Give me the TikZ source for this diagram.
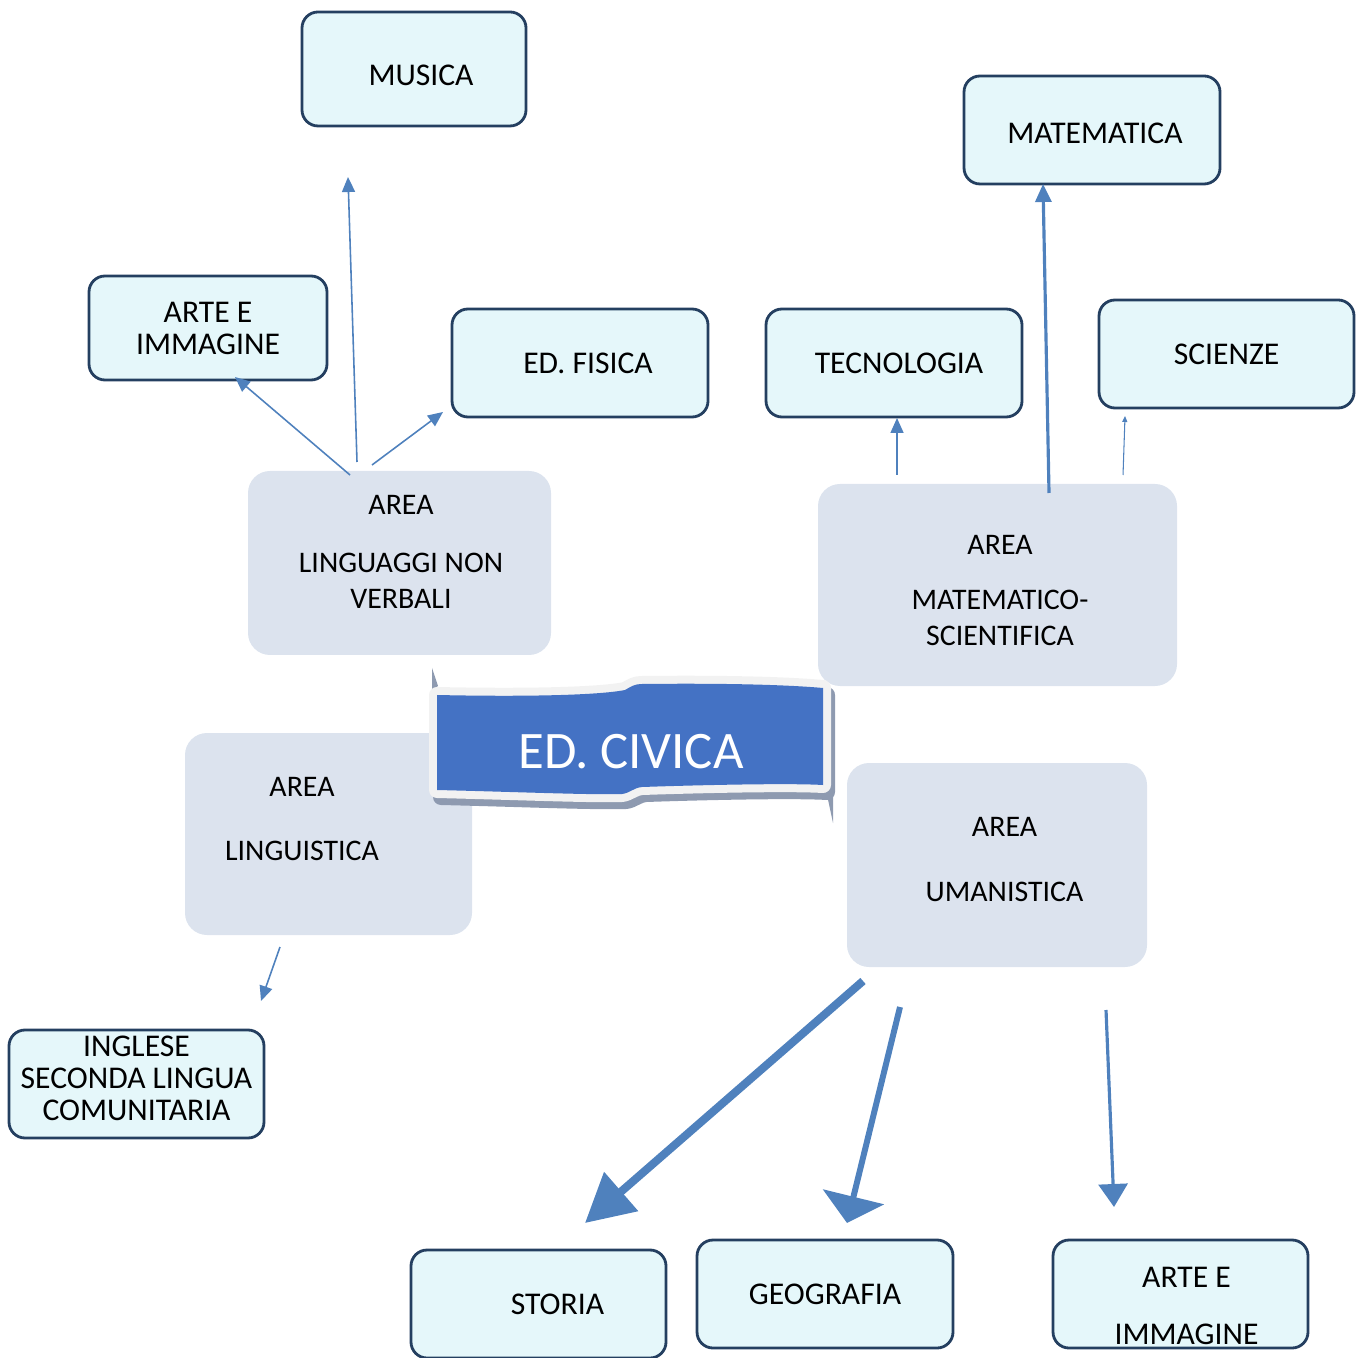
\documentclass[tikz,border=0pt]{standalone}
\usepackage{fontspec}
\setmainfont{Carlito}
\usepackage{tikz}
\usetikzlibrary{arrows.meta,positioning,calc}
\usepackage{xcolor}

\definecolor{boxfill}{HTML}{E5F7FA}
\definecolor{boxline}{HTML}{243F60}
\definecolor{areafill}{HTML}{DCE3EE}
\definecolor{arrowblue}{HTML}{4F81BD}
\definecolor{bannerblue}{HTML}{4472C4}
\definecolor{bannershade}{HTML}{8E9AB0}
\definecolor{bannerwhite}{HTML}{F2F2F2}

\tikzset{
  subject/.style={draw=boxline, line width=0.8pt, fill=boxfill, rounded corners=0.16cm,
    align=center, inner sep=0pt, minimum width=2.56cm, minimum height=1.08cm,
    font=\fontsize{9}{9.1}\selectfont},
  area/.style={fill=areafill, rounded corners=0.22cm, inner sep=0pt},
  areatext/.style={align=center, font=\fontsize{8.5}{10.2}\selectfont},
  link/.style={draw=arrowblue, line width=0.45pt, -{Triangle[length=0.15cm,width=0.13cm]}},
}

\def\bandpath{(4.37,-6.95) .. controls (5.3,-6.97) and (6.0,-6.95) .. (6.25,-6.90)
  .. controls (6.32,-6.86) and (6.35,-6.84) .. (6.42,-6.84)
  .. controls (7.3,-6.83) and (7.9,-6.85) .. (8.23,-6.88) -- (8.23,-7.85)
  .. controls (7.9,-7.83) and (7.0,-7.85) .. (6.42,-7.87)
  .. controls (6.33,-7.88) and (6.3,-7.93) .. (6.22,-7.94)
  .. controls (5.9,-7.95) and (5.2,-7.92) .. (4.37,-7.90) -- cycle}

\begin{document}
\begin{tikzpicture}[>=Stealth]
  \useasboundingbox (0,0) rectangle (13.56,-13.58);

  % Area boxes
  \node[area, minimum width=3.03cm, minimum height=1.84cm] (alnv) at (3.995,-5.63) {};
  \node[areatext] (alnvt) at (4.01,-5.52) {AREA\\[6.3pt]LINGUAGGI NON\\VERBALI};
  \node[area, minimum width=3.59cm, minimum height=2.02cm] (ams) at (9.975,-5.85) {};
  \node[areatext] (amst) at (10.0,-5.905) {AREA\\[5.4pt]MATEMATICO-\\SCIENTIFICA};
  \node[area, minimum width=2.87cm, minimum height=2.02cm] (al) at (3.285,-8.34) {};
  \node[areatext] (alt) at (3.02,-8.19) {AREA\\[8pt]LINGUISTICA};
  \node[area, minimum width=3.0cm, minimum height=2.04cm] (au) at (9.97,-8.65) {};
  \node[areatext] (aut) at (10.045,-8.595) {AREA\\[8.3pt]UMANISTICA};

  % Banner
  \fill[bannershade] (4.32,-6.68) -- (4.38,-6.86) -- (4.32,-6.9) -- cycle;
  \fill[bannershade] (8.27,-7.95) -- (8.33,-7.95) -- (8.33,-8.23) -- cycle;
  \begin{scope}[shift={(0.04,-0.07)}]
    \filldraw[bannershade, line width=0.16cm, line join=round] \bandpath;
  \end{scope}
  \draw[bannerwhite, line width=0.16cm, line join=round] \bandpath;
  \fill[bannerblue] \bandpath;
  \node[text=white, font=\fontsize{15}{15}\selectfont] (civica) at (6.31,-7.52) {ED. CIVICA};

  % Subject boxes
  \node[subject, minimum width=2.24cm, minimum height=1.14cm, text height=0.34cm, text depth=0pt] (musica) at (4.14,-0.69) {\hspace*{0.14cm}MUSICA};
  \node[subject, minimum width=2.38cm, minimum height=1.04cm] (arte1) at (2.08,-3.28) {ARTE E\\IMMAGINE};
  \node[subject] (fisica) at (5.80,-3.63) {\hspace*{0.16cm}ED. FISICA};
  \node[subject] (tecno) at (8.94,-3.63) {\hspace*{0.1cm}TECNOLOGIA};
  \node[subject, text height=0.28cm, text depth=0pt] (mate) at (10.92,-1.30) {\hspace*{0.06cm}MATEMATICA};
  \node[subject, minimum width=2.55cm] (scienze) at (12.265,-3.54) {SCIENZE};
  \node[subject, minimum width=2.55cm, text depth=0.12cm] (inglese) at (1.365,-10.84) {INGLESE\\SECONDA LINGUA\\COMUNITARIA};
  \node[subject, minimum width=2.55cm] (storia) at (5.385,-13.04) {\hspace*{0.38cm}STORIA};
  \node[subject] (geo) at (8.25,-12.94) {GEOGRAFIA};
  \node[subject, minimum width=2.55cm] (arte2) at (11.805,-12.94) {};
  \node[align=center, font=\fontsize{9}{9.1}\selectfont] (arte2t) at (11.865,-13.055) {ARTE E\\[7.1pt]IMMAGINE};

  % Arrow ends
  \coordinate (alnv1) at (3.57,-4.62);
  \coordinate (alnv2) at (3.50,-4.75);
  \coordinate (alnv3) at (3.72,-4.65);
  \coordinate (musica1) at (3.48,-1.77);
  \coordinate (arte1a) at (2.35,-3.77);
  \coordinate (fisica1) at (4.43,-4.12);
  \coordinate (ams1) at (8.97,-4.75);
  \coordinate (ams2) at (10.49,-4.93);
  \coordinate (ams3) at (11.23,-4.75);
  \coordinate (tecno1) at (8.97,-4.18);
  \coordinate (mate1) at (10.43,-1.84);
  \coordinate (scienze1) at (11.25,-4.16);
  \coordinate (al1) at (2.80,-9.47);
  \coordinate (inglese1) at (2.61,-10.01);
  \coordinate (au1) at (8.63,-9.81);
  \coordinate (au2) at (9.00,-10.07);
  \coordinate (au3) at (11.06,-10.10);
  \coordinate (storia1) at (5.85,-12.23);
  \coordinate (geo1) at (8.47,-12.23);
  \coordinate (arte2a) at (11.14,-12.07);

  % Draw arrows
  \draw[link] (alnv1) -- (musica1);
  \draw[link] (alnv2) -- (arte1a);
  \draw[link] (alnv3) -- (fisica1);
  \draw[link] (ams1) -- (tecno1);
  \draw[link, line width=0.9pt, -{Triangle[length=0.18cm,width=0.16cm]}] (ams2) -- (mate1);
  \draw[link, line width=0.3pt, -{Triangle[length=0.06cm,width=0.05cm]}] (ams3) -- (scienze1);
  \draw[link] (al1) -- (inglese1);
  \draw[link, line width=2.3pt, -{Triangle[length=0.48cm,width=0.5cm]}] (au1) -- (storia1);
  \draw[link, line width=1.7pt, -{Triangle[length=0.27cm,width=0.62cm]}] (au2) -- (geo1);
  \draw[link, line width=0.9pt, -{Triangle[length=0.23cm,width=0.29cm]}] (au3) -- (arte2a);
\end{tikzpicture}
\end{document}
